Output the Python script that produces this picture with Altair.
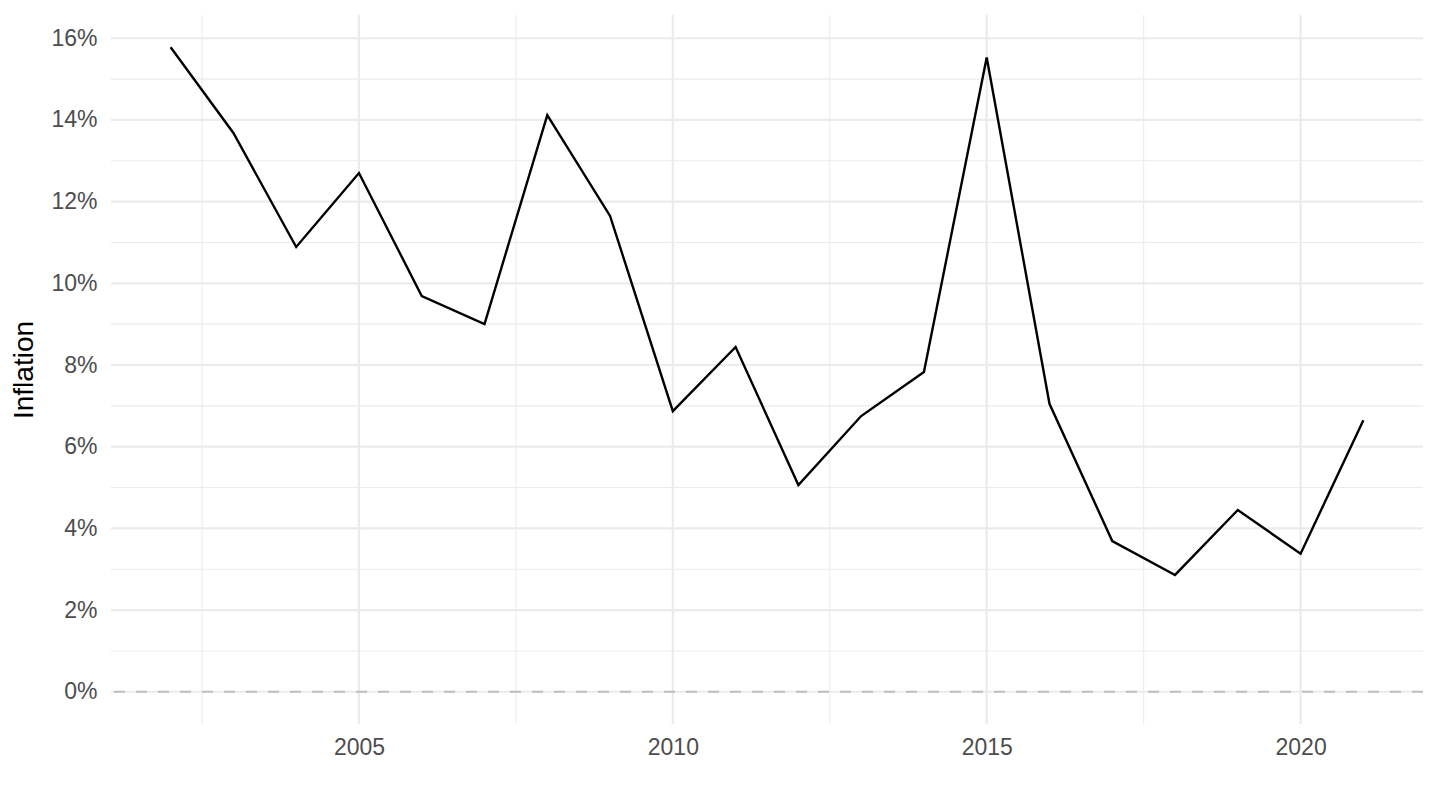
import altair as alt
import pandas as pd

years = list(range(2002, 2022))
inflation = [15.78, 13.68, 10.89, 12.70, 9.69, 9.00, 14.12, 11.65, 6.87, 8.44,
             5.06, 6.75, 7.83, 15.53, 7.05, 3.69, 2.86, 4.45, 3.38, 6.65]

x_major = [2005, 2010, 2015, 2020]
x_minor = [2002.5, 2007.5, 2012.5, 2017.5]
y_major = [0, 2, 4, 6, 8, 10, 12, 14, 16]
y_minor = [1, 3, 5, 7, 9, 11, 13, 15]

df = pd.DataFrame({"year": years, "value": [v / 100 for v in inflation]})
xmaj = pd.DataFrame({"x": x_major})
xmin = pd.DataFrame({"x": x_minor})
ymaj = pd.DataFrame({"y": [v / 100 for v in y_major]})
ymin = pd.DataFrame({"y": [v / 100 for v in y_minor]})
zero = pd.DataFrame({"y": [0.0]})

xscale = alt.Scale(domain=[2001.05, 2021.95], nice=False, zero=False)
yscale = alt.Scale(domain=[-0.00789, 0.16569], nice=False, zero=False)

FONT = "Liberation Sans"
grid_col = "#EBEBEB"

minor_x = alt.Chart(xmin).mark_rule(color=grid_col, strokeWidth=1.1).encode(
    x=alt.X("x:Q", scale=xscale))
minor_y = alt.Chart(ymin).mark_rule(color=grid_col, strokeWidth=1.1).encode(
    y=alt.Y("y:Q", scale=yscale))
major_x = alt.Chart(xmaj).mark_rule(color=grid_col, strokeWidth=2.2).encode(
    x=alt.X("x:Q", scale=xscale))
major_y = alt.Chart(ymaj).mark_rule(color=grid_col, strokeWidth=2.2).encode(
    y=alt.Y("y:Q", scale=yscale))
zero_line = alt.Chart(zero).mark_rule(color="#BEBEBE", strokeWidth=2.2, strokeDash=[11, 11]).encode(
    y=alt.Y("y:Q", scale=yscale))

line = alt.Chart(df).mark_line(color="black", strokeWidth=2.4).encode(
    x=alt.X("year:Q", scale=xscale,
            axis=alt.Axis(title=None, values=x_major, format="d", grid=False,
                          domain=False, ticks=False, labelFontSize=23,
                          labelColor="#4D4D4D", labelFont=FONT, labelPadding=12)),
    y=alt.Y("value:Q", scale=yscale,
            axis=alt.Axis(title="Inflation", values=[v / 100 for v in y_major],
                          format=".0%", grid=False, domain=False, ticks=False,
                          labelFontSize=23, labelColor="#4D4D4D", labelFont=FONT,
                          labelPadding=14, titleFontSize=28, titleFont=FONT,
                          titleColor="black", titleFontWeight="normal",
                          titlePadding=12)),
)

chart = alt.layer(minor_x, minor_y, major_x, major_y, zero_line, line).properties(
    width=1312, height=709,
    autosize=alt.AutoSizeParams(type="none"),
    padding={"left": 103, "top": 7, "right": 8, "bottom": 70},
).configure(background="white").configure_view(stroke=None)

chart.save("out.html", embed_options={"renderer": "svg", "actions": False})
